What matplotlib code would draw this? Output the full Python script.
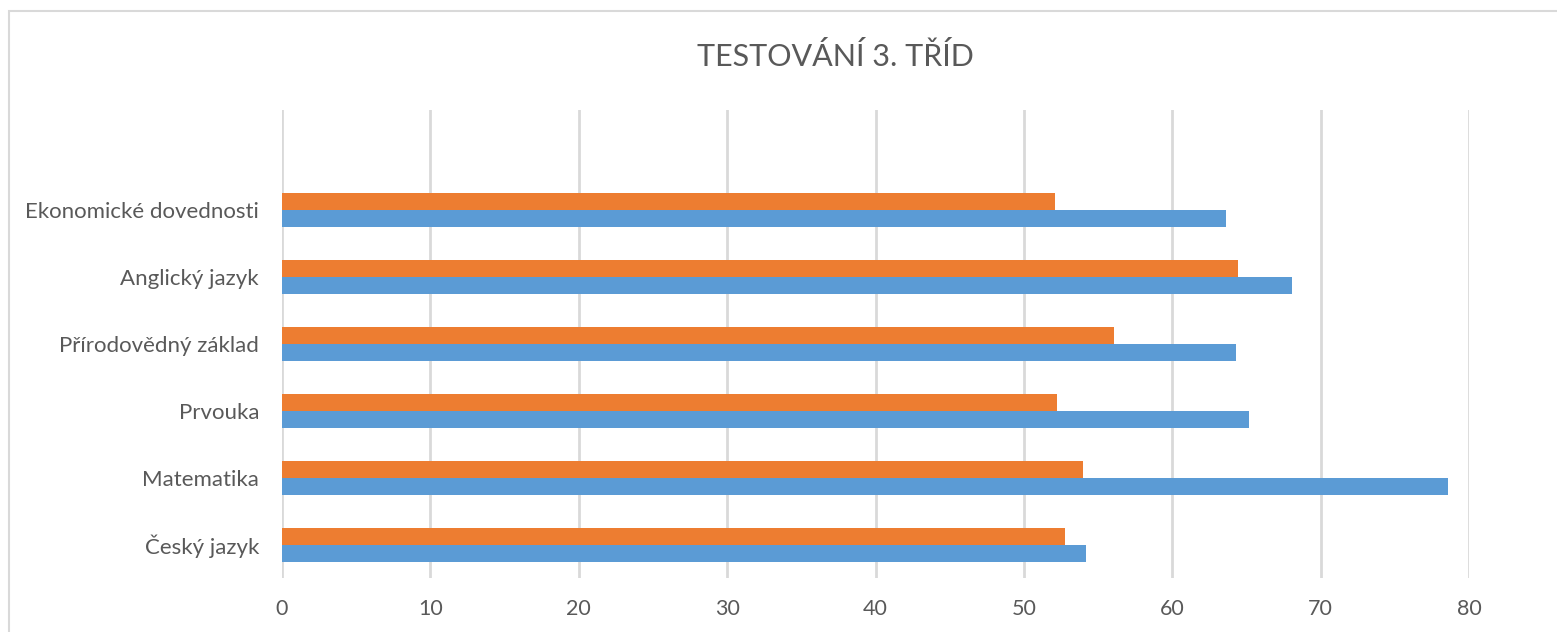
import matplotlib
matplotlib.use("Agg")
import matplotlib.pyplot as plt
from matplotlib.patches import Rectangle
import numpy as np

categories = ["Český jazyk", "Matematika", "Prvouka", "Přírodovědný základ",
              "Anglický jazyk", "Ekonomické dovednosti"]
series_blue = [54.2, 78.6, 65.2, 64.3, 68.1, 63.6]
series_orange = [52.8, 54.0, 52.2, 56.1, 64.4, 52.1]
xticks = [0, 10, 20, 30, 40, 50, 60, 70, 80]
title = "TESTOVÁNÍ 3. TŘÍD"

W, H = 1557, 632
fig = plt.figure(figsize=(W / 100, H / 100), dpi=100)
plt.rcParams['font.family'] = ['Lato', 'DejaVu Sans']
txt = "#595959"
grid = "#D9D9D9"

# chart border
fig.patches.append(Rectangle((9 / W, -0.1), 1.2, 1 - 11 / H + 0.1, transform=fig.transFigure,
                             fill=False, edgecolor=grid, linewidth=1.5))

ax = fig.add_axes([282 / W, 1 - 578 / H, (1469 - 282) / W, (578 - 110) / H])
y = np.arange(len(categories))
h = 0.255
ax.barh(y - h / 2, series_blue, height=h, color="#5B9BD5", zorder=3)
ax.barh(y + h / 2, series_orange, height=h, color="#ED7D31", zorder=3)

ax.set_xlim(0, 80)
ax.set_ylim(-0.5, len(categories) + 0.5)
ax.set_xticks(xticks)
ax.set_xticklabels([str(t) for t in xticks], fontsize=15.5, color=txt)
ax.set_yticks(y)
ax.set_yticklabels(categories, fontsize=16, color=txt)
ax.tick_params(axis="both", length=0)
ax.tick_params(axis="x", pad=15)
ax.tick_params(axis="y", pad=16.5)
for s in ax.spines.values():
    s.set_visible(False)
ax.grid(axis="x", color=grid, linewidth=2, zorder=0)
ax.set_axisbelow(True)

fig.text(835 / W, 1 - 56 / H, title, ha="center", va="center", fontsize=22, color=txt)

fig.savefig("out.png", dpi=100)
